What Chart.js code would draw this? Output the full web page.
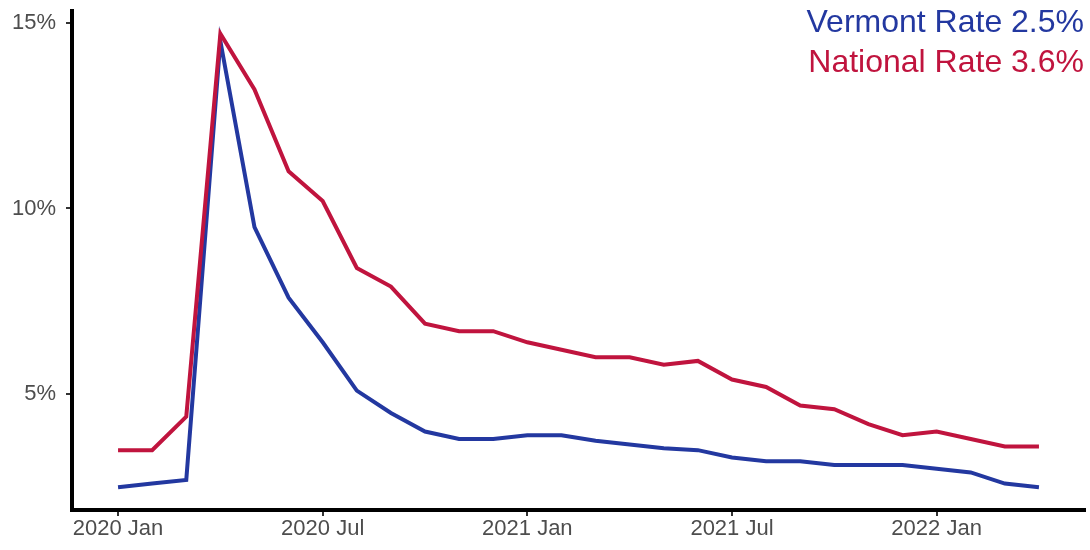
<!DOCTYPE html>
<html>
<head>
<meta charset="utf-8">
<script src="https://cdn.jsdelivr.net/npm/chart.js@4"></script>
<style>
  html, body { margin: 0; padding: 0; background: #fff; }
  #wrap { width: 1090px; height: 550px; }
</style>
</head>
<body>
<div id="wrap"><canvas id="myChart"></canvas></div>
<script>
var months = ['2020 Jan','2020 Feb','2020 Mar','2020 Apr','2020 May','2020 Jun','2020 Jul','2020 Aug','2020 Sep','2020 Oct','2020 Nov','2020 Dec',
  '2021 Jan','2021 Feb','2021 Mar','2021 Apr','2021 May','2021 Jun','2021 Jul','2021 Aug','2021 Sep','2021 Oct','2021 Nov','2021 Dec',
  '2022 Jan','2022 Feb','2022 Mar','2022 Apr'];
var vermont = [2.5,2.6,2.7,14.5,9.5,7.6,6.4,5.1,4.5,4.0,3.8,3.8,3.9,3.9,3.75,3.65,3.55,3.5,3.3,3.2,3.2,3.1,3.1,3.1,3.0,2.9,2.6,2.5];
var national = [3.5,3.5,4.4,14.7,13.2,11.0,10.2,8.4,7.9,6.9,6.7,6.7,6.4,6.2,6.0,6.0,5.8,5.9,5.4,5.2,4.7,4.6,4.2,3.9,4.0,3.8,3.6,3.6];
var xTicks = [0,6,12,18,24];
var yTicks = [5,10,15];
var legendLines = [
  {text: 'Vermont Rate 2.5%', color: '#2338a0'},
  {text: 'National Rate 3.6%', color: '#c0143e'}
];

function pts(arr) {
  return arr.map(function(v, i) { return {x: i, y: v}; });
}

var cornerText = {
  id: 'cornerText',
  afterDraw: function(chart) {
    var ctx = chart.ctx;
    ctx.save();
    ctx.font = '32px "Liberation Sans", Arial, sans-serif';
    ctx.textAlign = 'right';
    ctx.textBaseline = 'middle';
    legendLines.forEach(function(l, i) {
      ctx.fillStyle = l.color;
      ctx.fillText(l.text, 1084, 23 + i * 40);
    });
    ctx.restore();
  }
};

Chart.defaults.font.family = '"Liberation Sans", Arial, sans-serif';

new Chart("myChart", {
  type: "line",
  data: {
    datasets: [{
      data: pts(national),
      borderColor: '#c0143e',
      borderWidth: 4,
      pointRadius: 0,
      tension: 0,
      fill: false
    },{
      data: pts(vermont),
      borderColor: '#2338a0',
      borderWidth: 4,
      pointRadius: 0,
      tension: 0,
      fill: false
    }]
  },
  options: {
    responsive: true,
    maintainAspectRatio: false,
    animation: false,
    layout: {padding: {top: 11, right: 5, left: 0, bottom: 0}},
    plugins: {legend: {display: false}, tooltip: {enabled: false}},
    scales: {
      x: {
        type: 'linear',
        min: -1.35,
        max: 28.35,
        afterBuildTicks: function(s) { s.ticks = xTicks.map(function(v) { return {value: v}; }); },
        afterFit: function(s) { s.height = 40; s.paddingLeft = 0; s.paddingRight = 0; },
        border: {color: '#000', width: 4},
        grid: {drawOnChartArea: false, drawTicks: true, tickLength: 6, color: '#333', lineWidth: 2},
        ticks: {
          color: '#4d4d4d',
          font: {size: 22},
          padding: 0,
          maxRotation: 0,
          callback: function(v) { return months[v]; }
        }
      },
      y: {
        min: 1.89,
        max: 15.31,
        afterBuildTicks: function(s) { s.ticks = yTicks.map(function(v) { return {value: v}; }); },
        afterFit: function(s) { s.width = 72; s.paddingTop = 0; s.paddingBottom = 0; },
        border: {color: '#000', width: 4},
        grid: {drawOnChartArea: false, drawTicks: true, tickLength: 6, color: '#333', lineWidth: 2},
        ticks: {
          color: '#4d4d4d',
          font: {size: 22},
          padding: 10,
          callback: function(v) { return v + '%'; }
        }
      }
    }
  },
  plugins: [cornerText]
});
</script>
</body>
</html>
